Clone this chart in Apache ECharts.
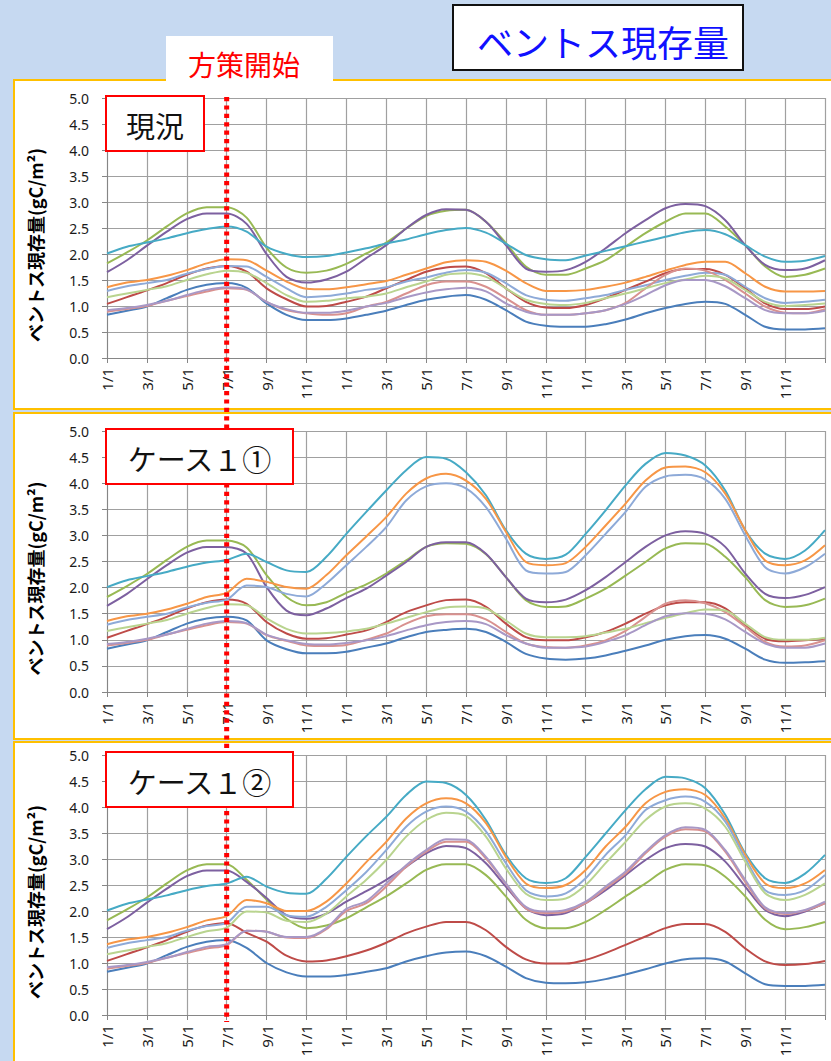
<!DOCTYPE html>
<html>
<head>
<meta charset="utf-8">
<title>ベントス現存量</title>
<script src="https://cdn.jsdelivr.net/npm/echarts@6.0.0/dist/echarts.min.js"></script>
<style>
  html, body { margin: 0; padding: 0; background: #c6d9f1; }
  #main { width: 831px; height: 1061px; }
</style>
</head>
<body>
<div id="main"></div>
<script>
// Month-start categories over three years (last entry closes the axis)
const months = [
  '1/1','2/1','3/1','4/1','5/1','6/1','7/1','8/1','9/1','10/1','11/1','12/1',
  '1/1','2/1','3/1','4/1','5/1','6/1','7/1','8/1','9/1','10/1','11/1','12/1',
  '1/1','2/1','3/1','4/1','5/1','6/1','7/1','8/1','9/1','10/1','11/1','12/1',
  '1/1'
];
const yTicks = [0, 0.5, 1, 1.5, 2, 2.5, 3, 3.5, 4, 4.5, 5];
const policyStart = 6;   // index of 7/1 in the first year

const panelTitles = ['現況', 'ケース１①', 'ケース１②'];
const lineColors = ['#4a7ebb', '#be4b48', '#98b954', '#7d60a0', '#46aac5',
                    '#f79646', '#8eaad8', '#d9918f', '#b9d48f', '#a898c6'];

// 現況 (gC/m2), monthly
const genkyo1  = [0.83,0.91,0.99,1.15,1.31,1.41,1.44,1.35,1.05,0.83,0.73,0.73,0.76,0.83,0.91,1.02,1.12,1.18,1.21,1.12,0.92,0.70,0.62,0.60,0.60,0.65,0.74,0.86,0.96,1.04,1.08,1.04,0.83,0.60,0.55,0.55,0.57];
const genkyo2  = [1.04,1.17,1.30,1.44,1.60,1.72,1.77,1.66,1.34,1.13,0.99,1.00,1.08,1.18,1.34,1.50,1.66,1.74,1.76,1.63,1.34,1.08,0.97,0.96,1.02,1.15,1.31,1.47,1.63,1.71,1.71,1.60,1.34,1.05,0.94,0.94,0.99];
const genkyo3  = [1.82,2.03,2.26,2.53,2.78,2.90,2.90,2.70,2.12,1.74,1.64,1.68,1.81,2.01,2.22,2.49,2.73,2.83,2.85,2.62,2.21,1.76,1.60,1.60,1.72,1.88,2.14,2.40,2.62,2.78,2.78,2.53,2.17,1.76,1.56,1.60,1.72];
const genkyo4  = [1.65,1.88,2.16,2.43,2.67,2.78,2.78,2.58,2.00,1.56,1.45,1.51,1.66,1.92,2.17,2.49,2.75,2.86,2.85,2.62,2.17,1.72,1.66,1.69,1.85,2.11,2.40,2.65,2.88,2.96,2.92,2.65,2.17,1.79,1.69,1.72,1.88];
const genkyo5  = [2.01,2.14,2.22,2.30,2.40,2.48,2.53,2.43,2.14,2.00,1.94,1.96,2.03,2.11,2.20,2.28,2.38,2.46,2.50,2.41,2.20,1.98,1.90,1.88,1.97,2.06,2.15,2.24,2.33,2.42,2.46,2.38,2.17,1.95,1.85,1.87,1.96];
const genkyo6  = [1.36,1.45,1.50,1.58,1.69,1.82,1.90,1.88,1.68,1.47,1.33,1.32,1.36,1.42,1.48,1.60,1.72,1.84,1.88,1.85,1.68,1.44,1.29,1.29,1.31,1.37,1.45,1.56,1.68,1.79,1.85,1.85,1.63,1.37,1.28,1.28,1.29];
const genkyo7  = [1.29,1.38,1.44,1.50,1.62,1.71,1.77,1.76,1.56,1.34,1.17,1.19,1.24,1.31,1.36,1.47,1.55,1.64,1.69,1.64,1.44,1.21,1.12,1.10,1.15,1.21,1.31,1.40,1.50,1.58,1.64,1.60,1.37,1.15,1.06,1.08,1.12];
const genkyo8  = [0.89,0.94,1.00,1.10,1.19,1.28,1.34,1.31,1.08,0.92,0.86,0.83,0.86,0.99,1.08,1.24,1.40,1.47,1.47,1.37,1.15,0.92,0.83,0.83,0.86,0.92,1.06,1.34,1.60,1.72,1.68,1.50,1.24,0.99,0.87,0.86,0.94];
const genkyo9  = [1.17,1.24,1.31,1.38,1.50,1.61,1.68,1.64,1.44,1.21,1.08,1.10,1.15,1.18,1.24,1.36,1.47,1.60,1.63,1.56,1.34,1.12,1.04,1.02,1.06,1.15,1.24,1.34,1.44,1.51,1.58,1.53,1.31,1.08,1.00,1.02,1.05];
const genkyo10 = [0.92,0.96,1.02,1.10,1.21,1.31,1.36,1.32,1.08,0.94,0.87,0.87,0.91,0.99,1.06,1.17,1.26,1.32,1.35,1.28,1.05,0.89,0.83,0.83,0.86,0.92,1.04,1.21,1.40,1.50,1.50,1.38,1.15,0.92,0.86,0.86,0.91];

// ケース１①, values from 8/1 of the first year onward (earlier months equal 現況)
const caseA1  = [1.37,0.99,0.82,0.74,0.74,0.77,0.85,0.93,1.05,1.15,1.19,1.21,1.15,0.96,0.73,0.64,0.62,0.64,0.70,0.79,0.89,1.00,1.07,1.09,1.02,0.83,0.62,0.56,0.57,0.59];
const caseA2  = [1.69,1.34,1.12,1.02,1.03,1.10,1.18,1.34,1.53,1.66,1.76,1.77,1.63,1.31,1.05,0.99,0.99,1.05,1.15,1.31,1.50,1.66,1.72,1.72,1.60,1.28,1.02,0.97,0.99,1.02];
const caseA3  = [2.77,2.24,1.82,1.66,1.72,1.90,2.06,2.27,2.52,2.78,2.85,2.84,2.64,2.20,1.76,1.63,1.64,1.79,1.98,2.23,2.49,2.75,2.85,2.84,2.59,2.20,1.76,1.63,1.66,1.79];
const caseA4  = [2.65,2.01,1.56,1.47,1.60,1.80,1.98,2.23,2.49,2.78,2.87,2.87,2.65,2.20,1.79,1.72,1.77,1.95,2.20,2.49,2.78,3.00,3.08,3.03,2.78,2.27,1.88,1.80,1.86,2.01];
const caseA5  = [2.65,2.49,2.33,2.30,2.59,3.03,3.45,3.86,4.25,4.50,4.47,4.21,3.77,3.10,2.65,2.55,2.63,3.03,3.48,3.96,4.37,4.58,4.53,4.34,3.86,3.10,2.65,2.55,2.71,3.10];
const caseA6  = [2.17,2.11,2.01,1.98,2.24,2.62,2.98,3.35,3.80,4.09,4.18,4.05,3.70,3.07,2.49,2.43,2.47,2.78,3.19,3.61,4.05,4.30,4.32,4.21,3.80,3.10,2.52,2.43,2.52,2.81];
const caseA7  = [2.04,2.01,1.88,1.83,2.08,2.43,2.78,3.16,3.67,3.94,4.00,3.90,3.54,2.94,2.33,2.27,2.30,2.62,3.03,3.45,3.93,4.13,4.16,4.07,3.70,3.00,2.39,2.27,2.39,2.65];
const caseA8  = [1.31,1.09,0.98,0.89,0.88,0.90,1.00,1.12,1.31,1.45,1.49,1.49,1.39,1.15,0.93,0.86,0.85,0.89,0.99,1.17,1.44,1.69,1.76,1.70,1.53,1.25,0.96,0.87,0.89,0.99];
const caseA9  = [1.66,1.41,1.21,1.12,1.13,1.16,1.21,1.31,1.42,1.53,1.62,1.64,1.60,1.37,1.12,1.05,1.05,1.07,1.14,1.21,1.32,1.42,1.51,1.58,1.56,1.31,1.05,1.00,1.00,1.04];
const caseA10 = [1.32,1.10,0.99,0.92,0.91,0.94,0.99,1.07,1.18,1.28,1.34,1.36,1.30,1.09,0.93,0.85,0.85,0.87,0.96,1.09,1.28,1.45,1.51,1.50,1.39,1.15,0.93,0.85,0.85,0.93];

// ケース１②, values from 8/1 of the first year onward (earlier months equal 現況)
const caseB1  = [1.29,1.00,0.82,0.74,0.74,0.77,0.83,0.90,1.03,1.13,1.20,1.22,1.13,0.93,0.71,0.62,0.61,0.63,0.69,0.78,0.88,0.99,1.07,1.09,1.03,0.80,0.59,0.56,0.56,0.58];
const caseB2  = [1.58,1.41,1.14,1.03,1.05,1.13,1.24,1.39,1.57,1.70,1.79,1.79,1.63,1.31,1.07,0.99,0.99,1.06,1.19,1.35,1.51,1.67,1.75,1.75,1.60,1.28,1.03,0.96,0.98,1.04];
const caseB3  = [2.60,2.22,1.85,1.67,1.72,1.86,2.07,2.28,2.53,2.79,2.90,2.90,2.69,2.28,1.83,1.67,1.67,1.79,2.02,2.28,2.53,2.79,2.90,2.88,2.66,2.28,1.83,1.65,1.69,1.79];
const caseB4  = [2.56,2.25,1.92,1.85,1.95,2.18,2.38,2.60,2.85,3.11,3.25,3.21,2.92,2.47,2.05,1.92,1.96,2.15,2.40,2.69,2.98,3.21,3.29,3.24,2.95,2.47,2.02,1.90,1.99,2.15];
const caseB5  = [2.66,2.47,2.35,2.33,2.62,3.04,3.44,3.81,4.23,4.49,4.46,4.23,3.75,3.08,2.63,2.54,2.63,3.04,3.49,3.94,4.34,4.58,4.55,4.36,3.85,3.11,2.63,2.54,2.72,3.08];
const caseB6  = [2.21,2.15,2.00,2.00,2.18,2.53,2.94,3.33,3.78,4.07,4.17,4.07,3.69,3.04,2.53,2.44,2.50,2.79,3.24,3.62,4.07,4.29,4.34,4.23,3.78,3.08,2.53,2.44,2.53,2.79];
const caseB7  = [2.08,2.08,1.92,1.89,2.08,2.40,2.75,3.17,3.62,3.91,4.01,3.91,3.53,2.92,2.40,2.28,2.34,2.63,3.08,3.46,3.94,4.13,4.20,4.10,3.72,3.01,2.40,2.31,2.40,2.69];
const caseB8  = [1.62,1.60,1.49,1.48,1.65,2.00,2.15,2.47,2.85,3.14,3.33,3.33,3.01,2.52,2.05,1.96,1.99,2.15,2.44,2.72,3.11,3.43,3.57,3.53,3.14,2.56,2.05,1.94,2.01,2.15];
const caseB9  = [1.99,1.97,1.81,1.79,1.95,2.28,2.60,2.98,3.43,3.75,3.89,3.83,3.43,2.82,2.33,2.21,2.24,2.50,2.92,3.33,3.75,4.01,4.07,3.97,3.62,2.95,2.34,2.21,2.31,2.53];
const caseB10 = [1.62,1.60,1.50,1.50,1.67,2.04,2.19,2.53,2.88,3.17,3.38,3.37,3.04,2.53,2.08,1.99,2.02,2.18,2.47,2.76,3.14,3.46,3.61,3.56,3.17,2.60,2.07,1.96,2.02,2.18];

const genkyo = [genkyo1, genkyo2, genkyo3, genkyo4, genkyo5, genkyo6, genkyo7, genkyo8, genkyo9, genkyo10];
const caseA = [caseA1, caseA2, caseA3, caseA4, caseA5, caseA6, caseA7, caseA8, caseA9, caseA10];
const caseB = [caseB1, caseB2, caseB3, caseB4, caseB5, caseB6, caseB7, caseB8, caseB9, caseB10];

// the cases share the months up to 7/1 with 現況
const withBaseline = (rows) => rows.map((r, k) => genkyo[k].slice(0, policyStart + 1).concat(r));
const panels = [genkyo, withBaseline(caseA), withBaseline(caseB)];

// layout of the three plot areas
const JP = '"Noto Sans CJK JP", "Noto Sans", sans-serif';
const NUM = '"Noto Sans", "DejaVu Sans", sans-serif';
const gridBoxes = [
  { top: 98, height: 260 },
  { top: 431, height: 261 },
  { top: 755, height: 260 }
];
const gridLeft = 107, gridWidth = 718;
const axisGrey = '#868686', gridGrey = '#a0a0a0';

const grids = [], xAxes = [], yAxes = [], series = [];
gridBoxes.forEach((g, i) => {
  grids.push({ left: gridLeft, top: g.top, width: gridWidth, height: g.height, containLabel: false });
  xAxes.push({
    gridIndex: i, type: 'category', data: months, boundaryGap: false,
    axisLine: { lineStyle: { color: axisGrey, width: 1 } },
    axisTick: { show: true, interval: 1, length: 5, lineStyle: { color: axisGrey } },
    axisLabel: {
      interval: (idx) => idx % 2 === 0 && idx < months.length - 1,
      rotate: 90, fontSize: 15, color: '#1a1a1a', margin: 10, fontFamily: NUM
    },
    splitLine: { show: true, interval: 1, lineStyle: { color: gridGrey, width: 1.2 } }
  });
  yAxes.push({
    gridIndex: i, type: 'value', min: yTicks[0], max: yTicks[yTicks.length - 1],
    interval: yTicks[1] - yTicks[0],
    axisLine: { show: true, lineStyle: { color: axisGrey } },
    axisTick: { show: true, length: 5, lineStyle: { color: axisGrey } },
    axisLabel: { formatter: (v) => v.toFixed(1), fontSize: 14, color: '#1a1a1a', margin: 18, fontFamily: NUM },
    splitLine: { show: true, lineStyle: { color: gridGrey, width: 1.2 } }
  });
  panels[i].forEach((values, k) => {
    series.push({
      type: 'line', xAxisIndex: i, yAxisIndex: i, data: values,
      smooth: 0.3, symbol: 'none', silent: true,
      lineStyle: { color: lineColors[k], width: 2 },
      itemStyle: { color: lineColors[k] },
      z: 2 + k * 0.01
    });
  });
});

// static decorations: panel frames, headings, axis names, case boxes
const panelFrames = [
  { y: 80, h: 329 },
  { y: 413, h: 326 },
  { y: 742, h: 340 }
];
const graphics = [];
panelFrames.forEach((p, i) => {
  graphics.push({
    id: 'frame' + i, type: 'rect', z: -10,
    shape: { x: 14, y: p.y, width: 840, height: p.h },
    style: { fill: '#ffffff', stroke: '#ffc000', lineWidth: 2 }
  });
});
graphics.push(
  { id: 'titleBox', type: 'rect', z: 20,
    shape: { x: 453, y: 5, width: 290, height: 65 },
    style: { fill: '#ffffff', stroke: '#111111', lineWidth: 2 } },
  { id: 'titleText', type: 'text', z: 21,
    style: { text: 'ベントス現存量', x: 603, y: 41, fill: '#1010ff',
             font: '36px ' + JP, textAlign: 'center', textVerticalAlign: 'middle', verticalAlign: 'middle' } },
  { id: 'startBox', type: 'rect', z: 20,
    shape: { x: 166, y: 36, width: 167, height: 46 },
    style: { fill: '#ffffff', stroke: null } },
  { id: 'startText', type: 'text', z: 21,
    style: { text: '方策開始', x: 244, y: 64, fill: '#ff0000',
             font: '28px ' + JP, textAlign: 'center', textVerticalAlign: 'middle', verticalAlign: 'middle' } }
);
const caseBoxes = [
  { y: 96, w: 98, text: panelTitles[0] },
  { y: 429, w: 187, text: panelTitles[1] },
  { y: 752, w: 187, text: panelTitles[2] }
];
caseBoxes.forEach((b, i) => {
  graphics.push(
    { id: 'caseBox' + i, type: 'rect', z: 20,
      shape: { x: 106, y: b.y, width: b.w, height: 55 },
      style: { fill: '#ffffff', stroke: '#ff0000', lineWidth: 2 } },
    { id: 'caseText' + i, type: 'text', z: 21,
      style: { text: b.text, x: 106 + b.w / 2, y: b.y + 29, fill: '#111111',
               font: '29px ' + JP, textAlign: 'center', textVerticalAlign: 'middle', verticalAlign: 'middle' } }
  );
  const g = gridBoxes[i];
  graphics.push({
    id: 'yName' + i, type: 'text', z: 21,
    x: 35, y: g.top + g.height / 2 + 17, rotation: Math.PI / 2,
    style: { text: 'ベントス現存量(gC/m²)', x: 0, y: 0, fill: '#000000',
             font: 'bold 18px ' + JP, textAlign: 'center', textVerticalAlign: 'middle', verticalAlign: 'middle' }
  });
});

const option = {
  animation: false,
  backgroundColor: 'transparent',
  grid: grids,
  xAxis: xAxes,
  yAxis: yAxes,
  series: series,
  graphic: graphics
};

const chart = echarts.init(document.getElementById('main'), null, { renderer: 'svg', width: 831, height: 1061 });
chart.setOption(option);

// dotted marker at the policy start date, running through all three panels
const xStart = chart.convertToPixel({ xAxisIndex: 0 }, policyStart);
const yTop = chart.convertToPixel({ yAxisIndex: 0 }, yTicks[yTicks.length - 1]) - 1;
const yBottom = chart.convertToPixel({ yAxisIndex: 2 }, yTicks[0]) + 7;
chart.setOption({
  graphic: [{
    id: 'policyLine', type: 'line', z: 15,
    shape: { x1: xStart, y1: yTop, x2: xStart, y2: yBottom },
    style: { stroke: '#ff0000', lineWidth: 5, lineDash: [4.2, 4.2] }
  }]
});
</script>
</body>
</html>
